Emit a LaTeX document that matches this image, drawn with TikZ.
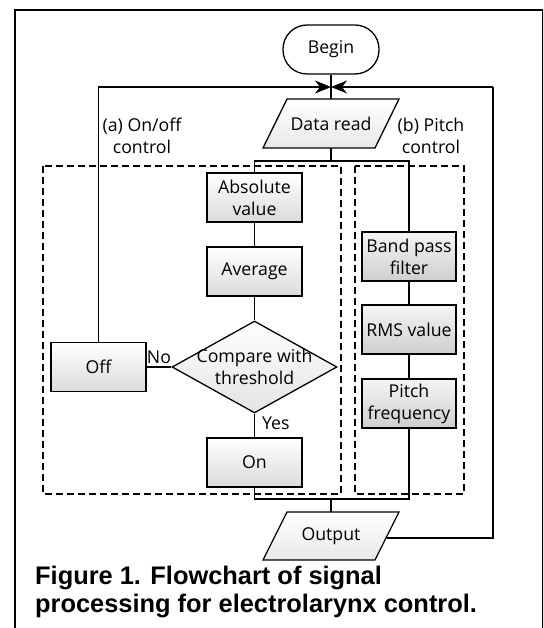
\documentclass[tikz,border=0pt]{standalone}
\usepackage{fontspec}
\setmainfont{Open Sans}
\newfontfamily\capfont{Liberation Sans}
\usetikzlibrary{shapes.geometric,arrows.meta,calc}
\begin{document}
\begin{tikzpicture}[x=1pt,y=-1pt,
  every node/.style={font=\fontsize{17.7}{22}\selectfont, text=black},
  ln/.style={line width=1.3pt, black},
  boxa/.style={draw, line width=1.3pt, rectangle, minimum width=95pt, minimum height=49pt, inner sep=0pt, align=center, top color=white, bottom color=gray!28},
  boxb/.style={draw, line width=1.3pt, rectangle, minimum width=94pt, minimum height=49pt, inner sep=0pt, align=center, top color=gray!8, bottom color=gray!38},
  paratext/.style={rectangle, minimum width=112pt, minimum height=49pt, inner sep=0pt},
  parashape/.style={draw, line width=1.3pt, top color=white, bottom color=gray!18},
  dbox/.style={draw, line width=1.3pt, dash pattern=on 7pt off 4pt},
  lbl/.style={align=center, inner sep=0pt},
  arr/.style={-{Stealth[length=16pt,width=13pt,inset=5pt]}}
]
\useasboundingbox (0,0) rectangle (543,628);
\clip (0,0) rectangle (543,628);
\draw[line width=2.6pt] (15,10) rectangle (543,680);

% dashed group boxes
\draw[dbox] (43,166) rectangle (341,494);
\draw[dbox] (355,166) rectangle (464,494);

% parallelogram outlines
\path[parashape] (275+12,99) -- (387+12,99) -- (387-12,148) -- (275-12,148) -- cycle;
\path[parashape] (275+12,512) -- (387+12,512) -- (387-12,560) -- (275-12,560) -- cycle;

% nodes
\node[draw, line width=1.3pt, rounded corners=24pt, minimum width=96pt, minimum height=49pt, inner sep=0pt, fill=white] (begin) at (331,49.5) {Begin};
\node[paratext] (data) at (331,123.5) {Data read};
\node[boxa] (abs) at (254.5,197.5) {Absolute\\value};
\node[boxa] (avg) at (254.5,271.5) {Average};
\node[diamond, draw, line width=1.3pt, minimum width=165pt, minimum height=92pt, inner sep=0pt, top color=white, bottom color=gray!22] (cmp) at (254.5,367) {};
\node[lbl] (cmptxt) at (cmp.center) {Compare with\\threshold};
\node[boxa] (off) at (98.5,367) {Off};
\node[boxa] (on) at (254.5,462.5) {On};
\node[boxb] (bpf) at (409,256.5) {Band pass\\filter};
\node[boxb] (rms) at (409,329.5) {RMS value};
\node[boxb] (pf) at (409,403.5) {Pitch\\frequency};
\node[paratext, minimum height=48pt] (out) at (331,536) {Output};

\node[lbl] (lbla) at (142,136) {(a) On/off\\control};
\node[lbl] (lblb) at (431,136) {(b) Pitch\\control};

\coordinate (j) at (331,87);
\coordinate (split) at (331,161);
\coordinate (merge) at (331,499);
\coordinate (lt) at (98.5,87);
\coordinate (rt) at (493,87);
\coordinate (rb) at (493,538);

% connectors
\draw[ln] (begin.south) -- (data.north);
\draw[ln] (data.south) -- (split);
\draw[ln] (split) -| (abs.north);
\draw[ln] (split) -| (bpf.north);
\draw[ln] (abs) -- (avg);
\draw[ln] (avg) -- (cmp);
\draw[ln] (cmp.south) -- node[lbl, right=7pt, pos=0.4] (yes) {Yes} (on.north);
\draw[ln] (cmp.west) -- node[lbl, above=3pt] (no) {No} (off.east);
\draw[ln] (bpf) -- (rms);
\draw[ln] (rms) -- (pf);
\draw[ln] (on.south) |- (merge);
\draw[ln] (pf.south) |- (merge);
\draw[ln] (merge) -- (out.north);
\draw[ln, arr] (off.north) -- (lt) -- (j);
\draw[ln] (out.east |- rb) -- (rb) -- (rt);
\draw[ln, arr] (rt) -- (j);

% caption
\node[anchor=base west, inner sep=0pt, font=\capfont\bfseries\fontsize{25.4}{30}\selectfont] (cap1) at (35,584) {Figure 1. Flowchart of signal};
\node[anchor=base west, inner sep=0pt, font=\capfont\bfseries\fontsize{25.4}{30}\selectfont] (cap2) at (35,612) {processing for electrolarynx control.};
\end{tikzpicture}
\end{document}
